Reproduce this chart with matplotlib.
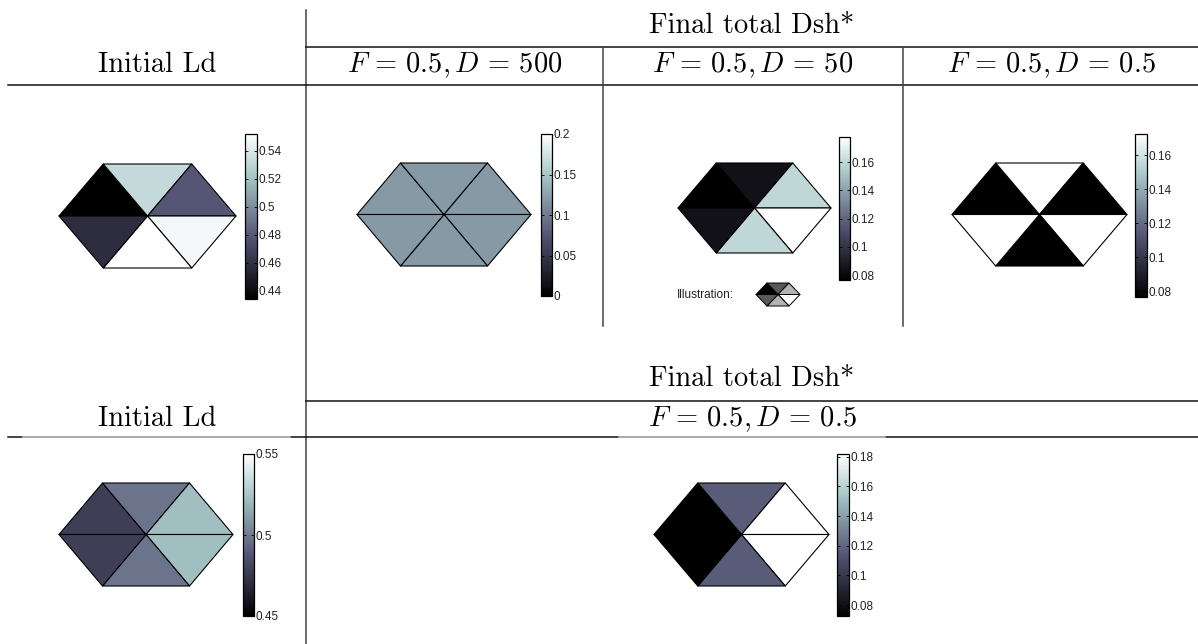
import numpy as np
import matplotlib
matplotlib.use("Agg")
import matplotlib.pyplot as plt
from matplotlib.ticker import FormatStrFormatter

plt.rcParams['mathtext.fontset'] = 'cm'
plt.rcParams['font.family'] = ['Liberation Sans', 'DejaVu Sans']

W, H = 1198, 644

# triangle order: upper-left, top, upper-right, lower-right, bottom, lower-left
ld_initial_1 = [0.434, 0.532, 0.479, 0.548, 0.552, 0.458]
dsh_d500 = [0.12, 0.12, 0.12, 0.12, 0.12, 0.12]
dsh_d50 = [0.0765, 0.0846, 0.1595, 0.1777, 0.1595, 0.0846]
dsh_d05 = [0.0765, 0.1724, 0.0765, 0.1724, 0.0765, 0.1724]
ld_initial_2 = [0.478, 0.498, 0.522, 0.522, 0.498, 0.478]
dsh_d05_2 = [0.0726, 0.1163, 0.1818, 0.1818, 0.1163, 0.0726]
illustration = [0.0, 0.35, 0.7, 1.0, 0.7, 0.35]

ticks_1 = [0.44, 0.46, 0.48, 0.5, 0.52, 0.54]
ticks_2 = [0, 0.05, 0.1, 0.15, 0.2]
ticks_3 = [0.08, 0.1, 0.12, 0.14, 0.16]
ticks_5 = [0.45, 0.5, 0.55]
ticks_6 = [0.08, 0.1, 0.12, 0.14, 0.16, 0.18]

col_titles = [r'$F\,=\,0.5,D\,=\,500$', r'$F\,=\,0.5,D\,=\,50$',
              r'$F\,=\,0.5,D\,=\,0.5$']

# hexagon mesh: centre + 6 corners
hx = np.array([0, -1, -0.5, 0.5, 1, 0.5, -0.5])
hy = np.array([0, 0, 1, 1, 0, -1, -1])
tris = [[1, 2, 0], [2, 3, 0], [3, 4, 0], [4, 5, 0], [5, 6, 0], [6, 1, 0]]

fig = plt.figure(figsize=(W / 100, H / 100), dpi=100)


def px_axes(x0, x1, yt, yb):
    return fig.add_axes([x0 / W, 1 - yb / H, (x1 - x0) / W, (yb - yt) / H])


def hexplot(box, vals, cmap='bone', vmin=None, vmax=None, lw=0.8):
    ax = px_axes(*box)
    tp = ax.tripcolor(hx, hy, tris, facecolors=np.array(vals), cmap=cmap,
                      vmin=vmin, vmax=vmax, edgecolors='k', linewidth=lw)
    tp.set_clip_on(False)
    ax.set_xlim(-1, 1)
    ax.set_ylim(-1, 1)
    ax.axis('off')
    return tp


def cbar(tp, box, ticks):
    cax = px_axes(*box)
    cb = fig.colorbar(tp, cax=cax, ticks=ticks)
    cb.outline.set_linewidth(0.9)
    cax.yaxis.set_major_formatter(FormatStrFormatter('%g'))
    cax.yaxis.set_ticks_position('both')
    cax.tick_params(axis='y', direction='in', length=2.5, width=0.6,
                    labelsize=8.5, pad=1, labelright=True, labelleft=False,
                    labelcolor='#222222')
    return cb


# table lines and headers
bg = fig.add_axes([0, 0, 1, 1])
bg.set_xlim(0, W)
bg.set_ylim(H, 0)
bg.axis('off')

hc = '#111111'
vc = '#444444'
bg.plot([306, 306], [10, 644], color=vc, lw=1.1)
bg.plot([306, W], [47, 47], color=hc, lw=1.1)
bg.plot([8, W], [85, 85], color=hc, lw=1.1)
bg.plot([603, 603], [47, 326], color=vc, lw=1.1)
bg.plot([903, 903], [47, 326], color=vc, lw=1.1)
bg.plot([306, W], [401, 401], color=hc, lw=1.1)
bg.plot([8, W], [437, 437], color=hc, lw=1.1)
bg.plot([23, 290], [437, 437], color='#c8c8c8', lw=1.1)
bg.plot([619, 885], [437, 437], color='#c8c8c8', lw=1.1)

hdr = dict(ha='center', va='center', fontsize=20.5)
bg.text(752, 26, 'Final total Dsh*', family='cmr10', **hdr)
bg.text(157, 65, 'Initial Ld', family='cmr10', **hdr)
for xc, t in zip([455, 753, 1051], col_titles):
    bg.text(xc, 65, t, **hdr)
bg.text(752, 379, 'Final total Dsh*', family='cmr10', **hdr)
bg.text(157, 419, 'Initial Ld', family='cmr10', **hdr)
bg.text(752, 419, col_titles[2], **hdr)

# top row
tp = hexplot((59, 236, 164, 268), ld_initial_1)
cbar(tp, (245, 257, 134, 299), ticks_1)

tp = hexplot((357, 531, 163, 266), dsh_d500, vmin=0, vmax=0.2)
cbar(tp, (541, 552, 134, 296), ticks_2)

tp = hexplot((678, 831, 163, 253), dsh_d50)
cbar(tp, (839, 850, 137, 280), ticks_3)

tp = hexplot((952, 1127, 163, 266), dsh_d05)
cbar(tp, (1135, 1147, 134, 297), ticks_3)

# small grey sketch under the D = 50 panel
hexplot((756, 800, 283, 306), illustration, cmap='gray', vmin=0, vmax=1, lw=0.7)
bg.text(677, 295, 'Illustration:', fontsize=8.5, ha='left', va='center',
        color='#222222')

# bottom row
tp = hexplot((59, 233, 483, 586), ld_initial_2, vmin=0.45, vmax=0.55)
cbar(tp, (243, 254, 454, 616), ticks_5)

tp = hexplot((654, 829, 483, 586), dsh_d05_2)
cbar(tp, (837, 849, 454, 616), ticks_6)

fig.savefig('out.png', dpi=100)
